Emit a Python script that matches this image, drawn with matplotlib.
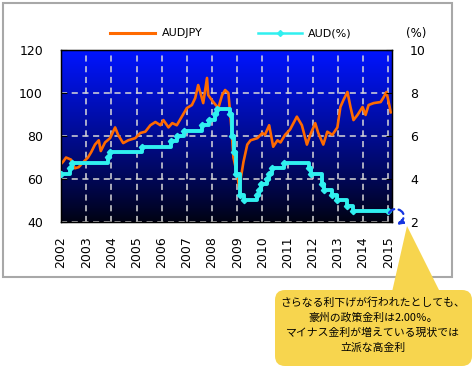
import numpy as np
import matplotlib.pyplot as plt
from matplotlib.lines import Line2D
from matplotlib.patches import FancyBboxPatch, Polygon, FancyArrowPatch, Rectangle
from matplotlib.path import Path
from matplotlib.transforms import Affine2D

plt.rcParams['font.family'] = ['DejaVu Sans', 'Noto Sans CJK JP']

# AUDJPY
jpy_t = [2002.0, 2002.08, 2002.2, 2002.4, 2002.55, 2002.7, 2002.9, 2003.07, 2003.2, 2003.35,
         2003.5, 2003.58, 2003.75, 2003.95, 2004.15, 2004.27, 2004.47, 2004.67, 2004.95, 2005.15,
         2005.35, 2005.55, 2005.75, 2005.95, 2006.07, 2006.27, 2006.42, 2006.6, 2006.8, 2007.0,
         2007.2, 2007.33, 2007.45, 2007.53, 2007.65, 2007.8, 2007.85, 2008.05, 2008.25, 2008.4,
         2008.52, 2008.65, 2008.77, 2008.85, 2009.0, 2009.08, 2009.25, 2009.4, 2009.53, 2009.8,
         2010.0, 2010.1, 2010.27, 2010.43, 2010.6, 2010.72, 2010.9, 2011.1, 2011.37, 2011.57,
         2011.77, 2011.9, 2012.1, 2012.22, 2012.42, 2012.58, 2012.78, 2012.98, 2013.1, 2013.22,
         2013.38, 2013.5, 2013.62, 2013.78, 2013.98, 2014.1, 2014.22, 2014.42, 2014.7, 2014.8,
         2014.93, 2015.0, 2015.1]
jpy_v = [67, 68, 70, 69, 65, 65.5, 68, 70, 72.5, 76,
         78, 73, 77, 79, 84, 80.5, 76.7, 78, 79, 81.4,
         82, 85, 86.5, 85, 87.4, 84, 86, 85, 89, 93,
         94.4, 97.6, 103.7, 100.5, 95.3, 107, 99, 95.8, 93, 99,
         101.4, 100, 83.7, 70, 62, 56, 68, 76, 78, 79,
         81.4, 80.5, 85, 75, 78, 77, 80.5, 83, 89, 85,
         76, 80.5, 86, 81.4, 76, 82, 80.5, 84, 93.5, 96.7,
         100.5, 93.5, 87.4, 89.8, 93.5, 89.8, 94.4, 95.3, 95.8, 97.7,
         100.5, 96.7, 91]

# AUD policy rate (%) at each change
rate_t = [2002.0, 2002.37, 2002.45, 2003.87, 2003.95, 2005.2, 2006.37, 2006.62, 2006.87, 2007.62,
          2007.87, 2008.12, 2008.2, 2008.7, 2008.78, 2008.87, 2008.95, 2009.12, 2009.28, 2009.78,
          2009.87, 2009.95, 2010.2, 2010.28, 2010.37, 2010.87, 2011.87, 2011.95, 2012.37, 2012.45,
          2012.78, 2012.95, 2013.37, 2013.62, 2015.0]
rate_v = [4.25, 4.5, 4.75, 5.0, 5.25, 5.5, 5.75, 6.0, 6.25, 6.5,
          6.75, 7.0, 7.25, 7.0, 6.0, 5.25, 4.25, 3.25, 3.0, 3.25,
          3.5, 3.75, 4.0, 4.25, 4.5, 4.75, 4.5, 4.25, 3.75, 3.5,
          3.25, 3.0, 2.75, 2.5, 2.5]

years = list(range(2002, 2016))
left_ticks = [40, 60, 80, 100, 120]
right_ticks = [2, 4, 6, 8, 10]

ORANGE = '#ff6a00'
CYAN = '#30f0f0'

fig = plt.figure(figsize=(4.76, 3.71), dpi=100)
W, H = 476, 371
# pixel coords (top-left origin) -> display
pxt = Affine2D().scale(1 / 100, -1 / 100).translate(0, H / 100) + fig.dpi_scale_trans

# outer frame
fig.add_artist(Rectangle((3, 3), 449, 274, transform=pxt, fill=False,
                         edgecolor='#a8a8a8', lw=1.5))

ax = fig.add_axes([61 / W, 1 - 222 / H, 331 / W, 172 / H])
grad = np.linspace(0, 1, 256)
cols = np.zeros((256, 1, 3))
cols[:, 0, 1] = 0.01 + 0.07 * grad
cols[:, 0, 2] = 0.07 + 0.93 * grad ** 0.9
ax.imshow(cols, extent=[0, 1, 0, 1], transform=ax.transAxes, aspect='auto',
          origin='lower', zorder=0)

ax.plot(jpy_t, jpy_v, color=ORANGE, lw=1.9, zorder=3)
ax.set_xlim(2002, 2015.15)
ax.set_ylim(40, 120)
ax.set_xticks(years)
ax.set_xticklabels([str(y) for y in years], rotation=90, fontsize=9)
ax.set_yticks(left_ticks)
ax.set_yticklabels([str(v) for v in left_ticks], fontsize=9)
ax.tick_params(axis='x', length=0, pad=10)
ax.tick_params(axis='y', direction='in', length=4, pad=13, color='black')
ax.set_axisbelow(True)
ax.grid(True, color='#d8d8d8', ls=(0, (4, 3)), lw=1.1)
for s in ax.spines.values():
    s.set_color('black')
    s.set_linewidth(1)

ax2 = ax.twinx()
ax2.plot(rate_t, rate_v, color=CYAN, lw=2.8, drawstyle='steps-post',
         marker='D', ms=3.2, zorder=4)
ax2.set_ylim(2, 10)
ax2.set_yticks(right_ticks)
ax2.set_yticklabels([str(v) for v in right_ticks], fontsize=9)
ax2.tick_params(axis='y', direction='in', length=4, pad=13)
ax2.set_xlim(2002, 2015.15)

# dashed blue loop arrow from last rate point
loop = Path([(389, 213), (395, 203), (412, 214), (397, 225)],
            [Path.MOVETO, Path.CURVE4, Path.CURVE4, Path.CURVE4])
fig.add_artist(FancyArrowPatch(path=loop, transform=pxt, arrowstyle='-|>',
                               mutation_scale=8, color='#1535e0', lw=1.6,
                               ls=(0, (3, 2))))

# legend
fig.add_artist(Line2D([110 / W, 155 / W], [1 - 33 / H] * 2, color=ORANGE, lw=2.2))
fig.text(162 / W, 1 - 33 / H, 'AUDJPY', fontsize=8, va='center', ha='left')
fig.add_artist(Line2D([258 / W, 302 / W], [1 - 33 / H] * 2, color=CYAN, lw=1.8))
fig.add_artist(Line2D([280 / W], [1 - 33 / H], color=CYAN, marker='D', ms=3))
fig.text(308 / W, 1 - 33 / H, 'AUD(%)', fontsize=8, va='center', ha='left')
fig.text(416 / W, 1 - 33 / H, '(%)', fontsize=8.5, va='center', ha='center')

# callout
YEL = '#f7d54e'
fig.add_artist(Polygon([(392, 292), (440, 292), (407, 226)], closed=True,
                       transform=pxt, facecolor=YEL, edgecolor='none'))
fig.add_artist(FancyBboxPatch((275, 290), 197, 76, transform=pxt,
                              boxstyle='round,pad=0,rounding_size=10',
                              facecolor=YEL, edgecolor='none'))
note = ('さらなる利下げが行われたとしても、\n豪州の政策金利は2.00％。\n'
        'マイナス金利が増えている現状では\n立派な高金利')
fig.text(373 / W, 1 - 325 / H, note, fontsize=7.8, ha='center', va='center',
         linespacing=1.55, family=['Noto Sans CJK JP', 'DejaVu Sans'])

fig.savefig('out.png', dpi=100, facecolor='white')
